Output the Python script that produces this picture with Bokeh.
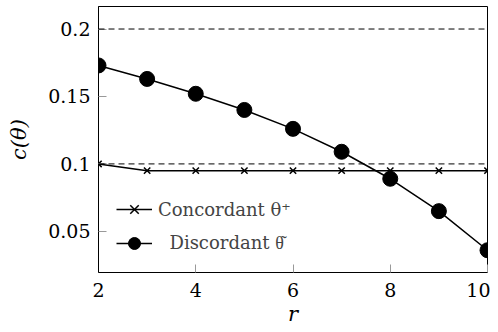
from bokeh.plotting import figure
from bokeh.models import FixedTicker, Span, Legend, LegendItem, Range1d
from bokeh.embed import file_html
from bokeh.resources import INLINE

r = [2, 3, 4, 5, 6, 7, 8, 9, 10]
concordant = [0.100, 0.095, 0.095, 0.095, 0.095, 0.095, 0.095, 0.095, 0.095]
discordant = [0.173, 0.163, 0.152, 0.140, 0.126, 0.109, 0.089, 0.065, 0.036]
ref_levels = [0.2, 0.1]
x_ticks = [2, 4, 6, 8, 10]
y_ticks = [0.05, 0.1, 0.15, 0.2]
y_labels = ["0.05", "0.1", "0.15", "0.2"]

FONT = "DejaVu Serif"

p = figure(width=490, height=328, output_backend="svg", toolbar_location=None,
           x_range=Range1d(2, 10), y_range=Range1d(0.0195, 0.2167),
           min_border_left=98, min_border_right=3, min_border_top=6, min_border_bottom=10)
p.grid.visible = False
p.outline_line_color = "black"
p.outline_line_width = 1

for lv in ref_levels:
    p.add_layout(Span(location=lv, dimension="width", line_color="black",
                      line_dash="6 4", line_width=1))

lc = p.line(r, concordant, line_color="black", line_width=1.5)
sc = p.scatter(r, concordant, marker="x", size=9, line_color="black", line_width=1.5)
ld = p.line(r, discordant, line_color="black", line_width=1.5)
sd = p.scatter(r, discordant, marker="circle", size=15, fill_color="black", line_color="black")

legend = Legend(items=[LegendItem(label="Concordant θ⁺", renderers=[lc, sc]),
                       LegendItem(label="  Discordant \u03b8\u0342", renderers=[ld, sd])],
                location=(18, 14), border_line_color=None, background_fill_alpha=0.0,
                label_text_font=FONT, label_text_font_size="18px",
                glyph_width=36, glyph_height=30, label_standoff=6, spacing=4,
                padding=4)
p.add_layout(legend, "center")

for ax in (p.xaxis[0], p.yaxis[0]):
    ax.major_label_text_font = FONT
    ax.major_label_text_font_size = "19px"
    ax.major_label_text_color = "black"
    ax.axis_label_text_font = FONT
    ax.axis_label_text_font_size = "21px"
    ax.axis_label_text_font_style = "italic"
    ax.axis_label_text_color = "black"
    ax.axis_line_color = "black"
    ax.major_tick_line_color = "#999999"
    ax.major_tick_in = 8
    ax.major_tick_out = 0
    ax.minor_tick_line_color = None

p.xaxis.ticker = FixedTicker(ticks=x_ticks)
p.yaxis.ticker = FixedTicker(ticks=y_ticks)
p.yaxis.major_label_overrides = {t: l for t, l in zip(y_ticks, y_labels)}
p.xaxis.axis_label = "r"
p.yaxis.axis_label = "c(θ)"
p.xaxis.major_label_standoff = 10
p.xaxis.axis_label_standoff = 2
p.yaxis.major_label_standoff = 8
p.yaxis.axis_label_standoff = 14

open("out.html", "w").write(file_html(p, INLINE))
